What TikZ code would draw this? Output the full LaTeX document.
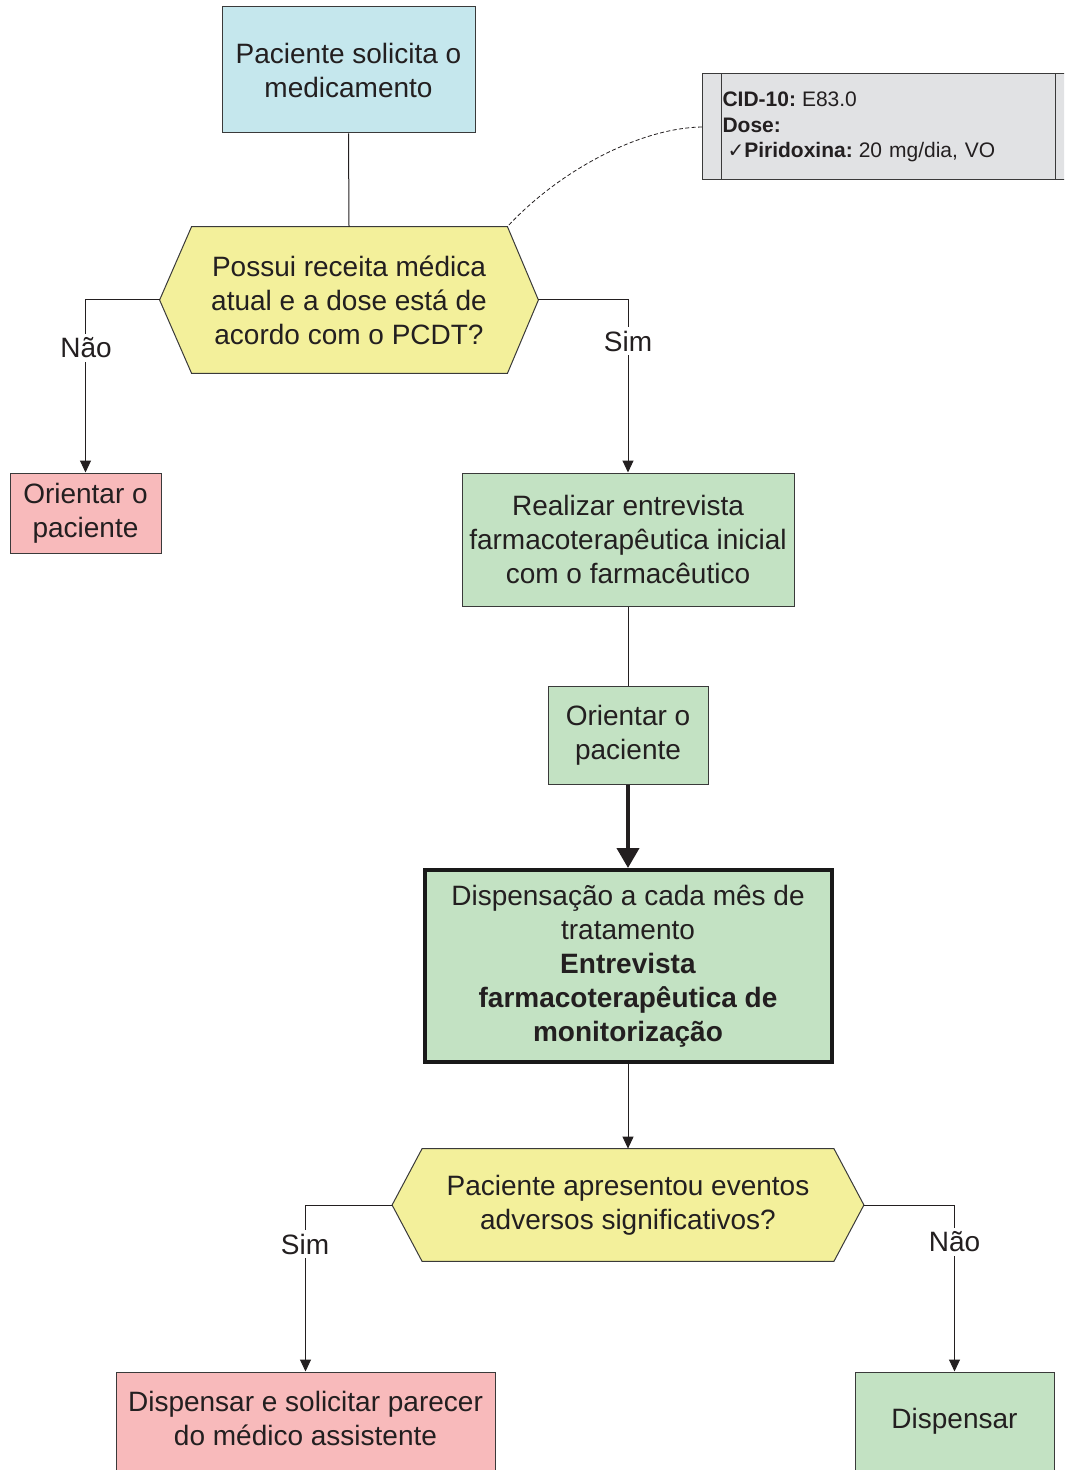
\documentclass[tikz,border=0pt]{standalone}
\usepackage{fontspec}
\setmainfont{Liberation Sans}
\newfontfamily\dejavu{DejaVu Sans}
\usetikzlibrary{arrows.meta}
\pgfdeclarelayer{bg}
\pgfsetlayers{bg,main}
\definecolor{txt}{HTML}{231F20}
\definecolor{bord}{HTML}{3A3A3A}
\definecolor{bluec}{HTML}{C5E7ED}
\definecolor{yellowc}{HTML}{F3F09B}
\definecolor{pinkc}{HTML}{F8BABB}
\definecolor{greenc}{HTML}{C3E2C3}
\definecolor{grayc}{HTML}{E1E2E4}
\tikzset{
  mainfont/.style={font=\fontsize{14pt}{17pt}\selectfont},
  box/.style={draw=bord, line width=0.5pt, text=txt, mainfont, align=center, inner sep=0pt},
  hexnode/.style={text=txt, mainfont, align=center, inner sep=0pt},
  hexshape/.style={fill=yellowc, draw=bord, line width=0.5pt},
  conn/.style={draw=txt, line width=0.5pt},
  arr/.style={conn, -{Triangle[length=6pt,width=5.5pt]}},
  thickarr/.style={draw=txt, line width=2pt, -{Triangle[length=10pt,width=11pt]}},
  lab/.style={fill=white, text=txt, mainfont, inner sep=2pt},
  notebox/.style={draw=bord, line width=0.5pt, fill=grayc, text=txt,
    font=\fontsize{10.5pt}{12.75pt}\selectfont, align=left, inner xsep=10pt, inner ysep=0pt,
    text width=180pt, minimum width=200pt, minimum height=53pt},
  dashedcurve/.style={draw=txt, line width=0.4pt, dash pattern=on 2pt off 1.2pt}
}
\begin{document}
\begin{tikzpicture}[x=0.5pt,y=-0.5pt]
\useasboundingbox (0,0) rectangle (1064,1470);
\clip (0,0) rectangle (1064,1470);

% nodes
\node[box, fill=bluec, minimum width=126.5pt, minimum height=63pt] (n1) at (348.5,70)
  {Paciente solicita o\\medicamento};
\node[hexnode, minimum width=189pt, minimum height=73pt] (h1) at (349,300)
  {Possui receita médica\\atual e a dose está de\\acordo com o PCDT?};
\node[notebox, anchor=west] (note) at (702,127)
  {\textbf{CID-10:}\kern3pt E83.0\\\textbf{Dose:}\\\hspace{2.5pt}{\dejavu\fontsize{10pt}{10pt}\selectfont ✓}\textbf{Piridoxina:}\kern3pt 20 mg/dia, VO};
\node[box, fill=pinkc, minimum width=75.5pt, minimum height=40pt] (o1) at (85.5,513)
  {Orientar o\\paciente};
\node[box, fill=greenc, minimum width=166pt, minimum height=66.5pt] (r1) at (628,539.5)
  {Realizar entrevista\\farmacoterapêutica inicial\\com o farmacêutico};
\node[box, fill=greenc, minimum width=80pt, minimum height=49pt] (o2) at (628,735)
  {Orientar o\\paciente};
\node[box, fill=greenc, line width=2pt, draw=black!90, minimum width=203.5pt, minimum height=96pt] (big) at (628,966)
  {Dispensação a cada mês de\\tratamento\\\textbf{Entrevista}\\\textbf{farmacoterapêutica de}\\\textbf{monitorização}};
\node[hexnode, minimum width=235.5pt, minimum height=56pt] (h2) at (628,1205)
  {Paciente apresentou eventos\\adversos significativos?};
\node[box, fill=pinkc, minimum width=189.5pt, minimum height=52pt, text depth=5.5pt] (p2) at (305.5,1424)
  {Dispensar e solicitar parecer\\do médico assistente};
\node[box, fill=greenc, minimum width=99.5pt, minimum height=52pt, text depth=5.5pt] (d) at (954.5,1424)
  {Dispensar};

% hexagon outlines
\begin{pgfonlayer}{bg}
\draw[hexshape] (h1.west) -- ([xshift=16pt]h1.north west) -- ([xshift=-15.5pt]h1.north east)
  -- (h1.east) -- ([xshift=-15.5pt]h1.south east) -- ([xshift=16pt]h1.south west) -- cycle;
\draw[hexshape] (h2.west) -- ([xshift=15pt]h2.north west) -- ([xshift=-15pt]h2.north east)
  -- (h2.east) -- ([xshift=-15pt]h2.south east) -- ([xshift=15pt]h2.south west) -- cycle;
\end{pgfonlayer}

% note inner lines
\draw[draw=bord, line width=0.5pt] ([xshift=9.5pt]note.north west) -- ([xshift=9.5pt]note.south west);
\draw[draw=bord, line width=0.5pt] ([xshift=176.5pt]note.north west) -- ([xshift=176.5pt]note.south west);
\coordinate (h1ne) at ([xshift=-15.5pt]h1.north east);
\draw[dashedcurve] (note.west) .. controls (640,128) and (560,170) .. (h1ne);

% connectors
\draw[conn] (n1.south) -- (h1.north);
\draw[arr] (h1.west) -| (o1.north);
\draw[arr] (h1.east) -| (r1.north);
\draw[conn] (r1.south) -- (o2.north);
\draw[thickarr] (o2.south) -- (big.north);
\draw[arr] (big.south) -- (h2.north);
\draw[arr] (h2.west) -| (p2.north);
\draw[arr] (h2.east) -| (d.north);

% labels
\node[lab] (l1) at (86,348) {Não};
\node[lab] (l2) at (628,341) {Sim};
\node[lab] (l3) at (305,1244) {Sim};
\node[lab] (l4) at (954.5,1242) {Não};
\end{tikzpicture}
\end{document}
